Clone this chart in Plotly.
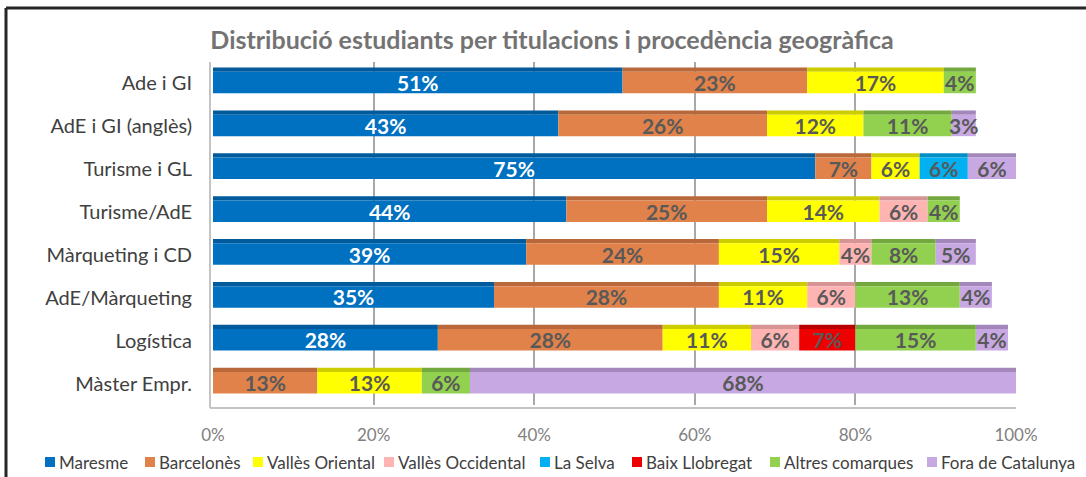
import plotly.graph_objects as go

# ---------------- data ----------------
categories = ["Ade i GI", "AdE i GI (anglès)", "Turisme i GL", "Turisme/AdE",
              "Màrqueting i CD", "AdE/Màrqueting", "Logística", "Màster Empr."]
series_names = ["Maresme", "Barcelonès", "Vallès Oriental", "Vallès Occidental",
                "La Selva", "Baix Llobregat", "Altres comarques", "Fora de Catalunya"]
maresme = [51, 43, 75, 44, 39, 35, 28, None]
barcelones = [23, 26, 7, 25, 24, 28, 28, 13]
valles_oriental = [17, 12, 6, 14, 15, 11, 11, 13]
valles_occidental = [None, None, None, 6, 4, 6, 6, None]
la_selva = [None, None, 6, None, None, None, None, None]
baix_llobregat = [None, None, None, None, None, None, 7, None]
altres_comarques = [4, 11, None, 4, 8, 13, 15, 6]
fora_catalunya = [None, 3, 6, None, 5, 4, 4, 68]
x_tick_values = [0, 20, 40, 60, 80, 100]
x_tick_labels = ["0%", "20%", "40%", "60%", "80%", "100%"]
title_text = "Distribució estudiants per titulacions i procedència geogràfica"

series_values = [maresme, barcelones, valles_oriental, valles_occidental,
                 la_selva, baix_llobregat, altres_comarques, fora_catalunya]

# ---------------- styles ----------------
colors = ["#0070C0", "#E0824A", "#FFFF00", "#FFB4B4",
          "#00B0F0", "#EE0000", "#92D050", "#C8A8E2"]
top_colors = ["#005A9C", "#B8683A", "#CCCC00", "#D69494",
              "#008FC4", "#B80000", "#73A83E", "#A387BA"]
label_colors = ["#FFFFFF"] + ["#595959"] * 7
FONT = "Lato"
GRID = "#A8A8A8"
FLOOR = "#C4C4C4"

W, H = 1086, 477
ML, MR, MT, MB = 213, 70, 62, 72
PW, PH = W - ML - MR, H - MT - MB
FRONT_BOTTOM = 408    # px
N = len(categories)


def px_x(x):
    return (x - ML) / PW


def px_y(y):
    return (H - MB - y) / PH


fig = go.Figure()
bases = [0] * N
for name, vals, col, tcol, lcol in zip(series_names, series_values, colors,
                                       top_colors, label_colors):
    seg_base = list(bases)
    # top face (darker strip)
    fig.add_trace(go.Bar(
        y=categories, x=vals, base=seg_base, orientation="h",
        width=0.1, offset=-0.37,
        marker=dict(color=tcol, line=dict(width=0)),
        hoverinfo="skip", showlegend=False,
    ))
    # front face with label
    fig.add_trace(go.Bar(
        y=categories, x=vals, base=seg_base, name=name, orientation="h",
        width=0.5, offset=-0.27,
        marker=dict(color=col, line=dict(width=0)),
        texttemplate="%{x}%", textposition="inside", insidetextanchor="middle",
        constraintext="none", textangle=0,
        textfont=dict(family=FONT, size=21, color=lcol, weight="bold"),
        showlegend=False,
    ))
    bases = [b + (v or 0) for b, v in zip(bases, vals)]

fig.update_layout(
    width=W, height=H, barmode="overlay",
    margin=dict(l=ML, r=MR, t=MT, b=MB),
    paper_bgcolor="white", plot_bgcolor="white",
    title=dict(text=title_text, x=552 / W, xanchor="center", xref="container",
               y=1 - 40 / H, yanchor="middle", yref="container",
               font=dict(family=FONT, size=25, color="#737373", weight="bold")),
    xaxis=dict(range=[0, 100], tickvals=x_tick_values, ticktext=x_tick_labels,
               showgrid=True, gridcolor=GRID, gridwidth=2,
               showline=False, zeroline=False,
               ticks="", ticklabelstandoff=18,
               tickfont=dict(family=FONT, size=17, color="#808080")),
    yaxis=dict(range=[N - 0.5, -0.5], showgrid=False, zeroline=False,
               showline=False, ticks="", ticklabelstandoff=20,
               tickfont=dict(family=FONT, size=20, color="#404040")),
)

# pseudo-3D floor edge and left wall
fig.add_shape(type="line", xref="paper", yref="paper",
              x0=px_x(ML - 3), x1=1.0, y0=px_y(FRONT_BOTTOM), y1=px_y(FRONT_BOTTOM),
              line=dict(color=FLOOR, width=2), layer="below")
fig.add_shape(type="line", xref="paper", yref="paper",
              x0=px_x(ML - 3), x1=px_x(ML - 3), y0=1.0, y1=px_y(FRONT_BOTTOM),
              line=dict(color=FLOOR, width=2), layer="below")

# frame of the original picture
fig.add_shape(type="line", xref="paper", yref="paper",
              x0=px_x(6), x1=px_x(W + 5), y0=px_y(8), y1=px_y(8),
              line=dict(color="#262626", width=3))
fig.add_shape(type="line", xref="paper", yref="paper",
              x0=px_x(6), x1=px_x(6), y0=px_y(8), y1=px_y(H + 5),
              line=dict(color="#262626", width=3))

# custom single-row legend
legend_x_px = [45, 145, 253, 384, 540, 632, 770, 927]
legend_y_px = 462
for name, col, lx in zip(series_names, colors, legend_x_px):
    fig.add_shape(type="rect", xref="paper", yref="paper",
                  x0=px_x(lx), x1=px_x(lx + 10),
                  y0=px_y(legend_y_px + 5), y1=px_y(legend_y_px - 5),
                  fillcolor=col, line=dict(width=0))
    fig.add_annotation(x=px_x(lx + 12), y=px_y(legend_y_px), xref="paper", yref="paper",
                       text=name, showarrow=False, xanchor="left", yanchor="middle",
                       font=dict(family=FONT, size=17, color="#404040"))

fig.write_html("out.html", config={"displayModeBar": False},
               post_script="document.body.style.margin='0px';document.body.style.overflow='hidden';")
